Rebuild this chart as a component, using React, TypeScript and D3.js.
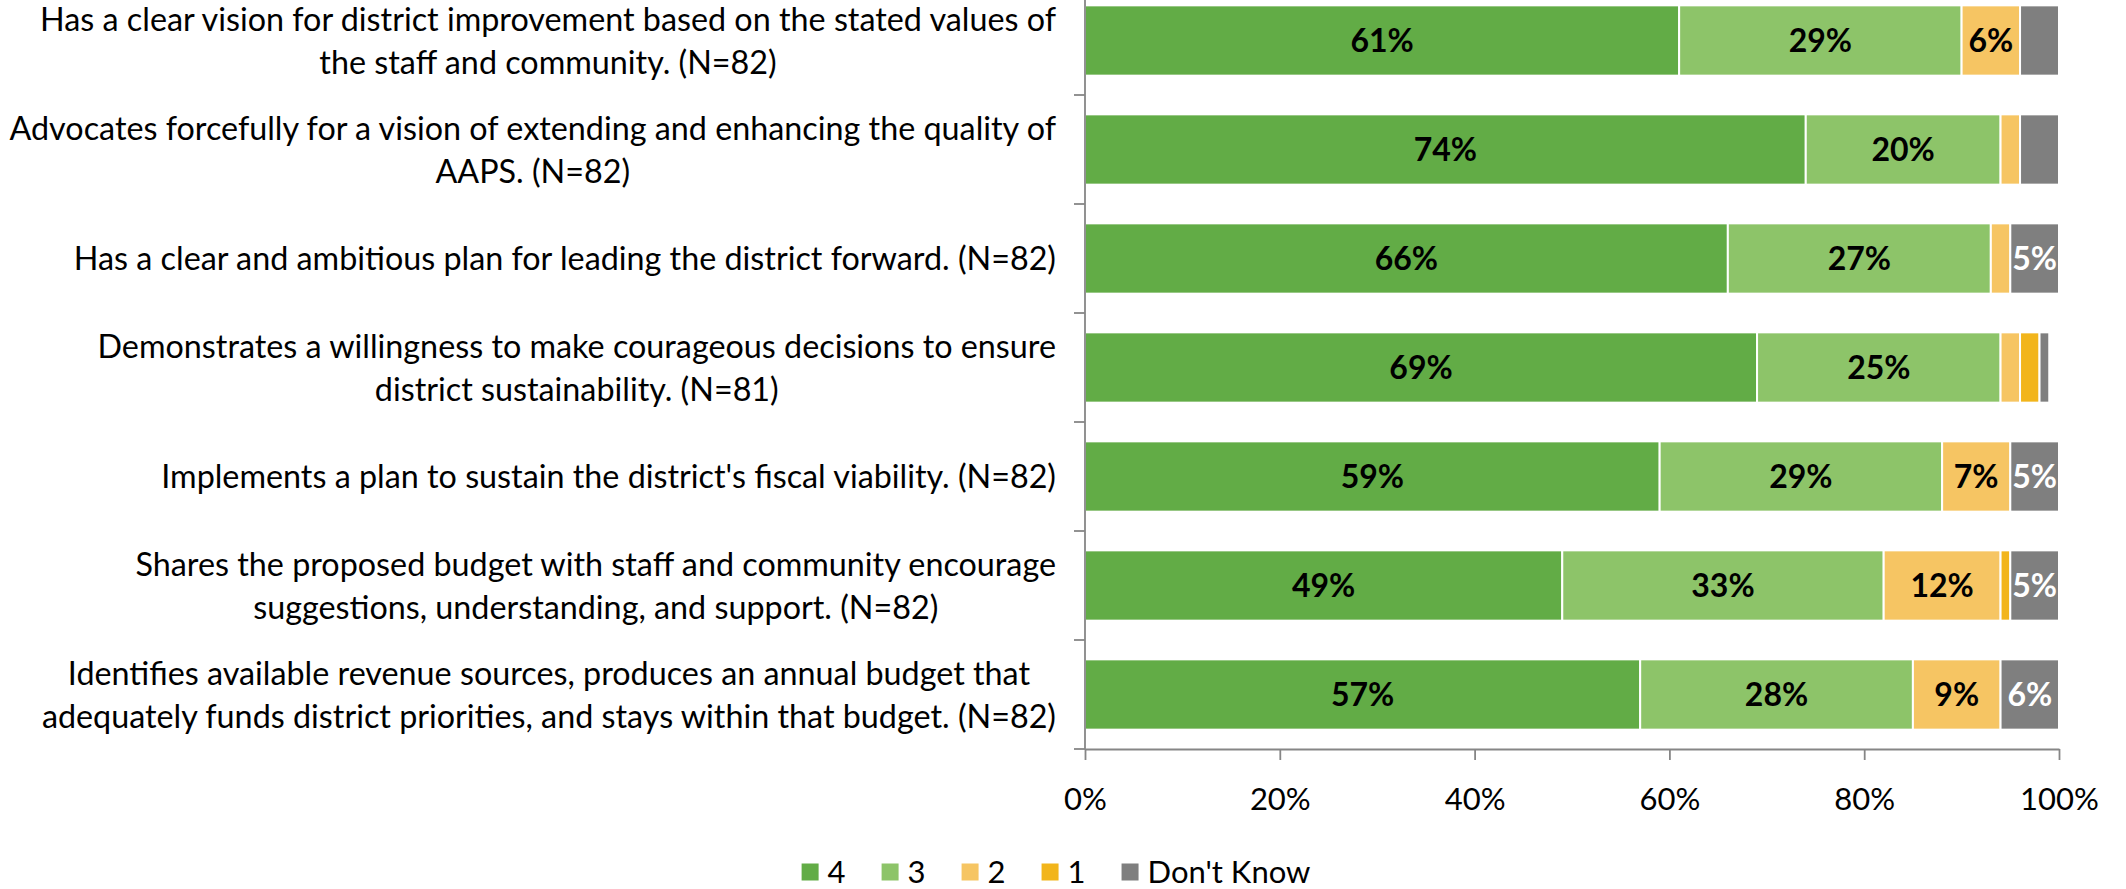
import { useRef, useEffect } from 'react';
import * as d3 from 'd3';

const categories = [
  "Has a clear vision for district improvement based on the stated values of|the staff and community. (N=82)",
  "Advocates forcefully for a vision of extending and enhancing the quality of|AAPS. (N=82)",
  "Has a clear and ambitious plan for leading the district forward. (N=82)",
  "Demonstrates a willingness to make courageous decisions to ensure|district sustainability. (N=81)",
  "Implements a plan to sustain the district's fiscal viability. (N=82)",
  "Shares the proposed budget with staff and community encourage|suggestions, understanding, and support. (N=82)",
  "Identifies available revenue sources, produces an annual budget that|adequately funds district priorities, and stays within that budget. (N=82)",
];

const seriesNames = ["4", "3", "2", "1", "Don't Know"];
const values4 = [61, 74, 66, 69, 59, 49, 57];
const values3 = [29, 20, 27, 25, 29, 33, 28];
const values2 = [6, 2, 2, 2, 7, 12, 9];
const values1 = [0, 0, 0, 2, 0, 1, 0];
const valuesDK = [4, 4, 5, 1, 5, 5, 6];
const xTicks = [0, 20, 40, 60, 80, 100];

const colors = ["#62AC46", "#8DC469", "#F6C563", "#F2B51B", "#7F7F7F"];
const labelColors = ["#000", "#000", "#000", "#000", "#fff"];

const W = 2126;
const H = 889;
const FONT = "Lato, 'Open Sans', sans-serif";

const App = () => {
  const svgRef = useRef<SVGSVGElement>(null);

  useEffect(() => {
    const svg = d3.select(svgRef.current);
    svg.selectAll("*").remove();

    const margin = { top: -14, right: 67, bottom: 140, left: 1085 };
    const plotW = W - margin.left - margin.right;
    const plotBottom = H - margin.bottom;

    const rows = categories.map((c, i) => ({
      cat: c,
      "4": values4[i],
      "3": values3[i],
      "2": values2[i],
      "1": values1[i],
      "Don't Know": valuesDK[i],
    }));

    const stacked = d3.stack<any>().keys(seriesNames)(rows);

    const x = d3.scaleLinear().domain([0, 100]).range([margin.left, margin.left + plotW]);
    const y = d3.scaleBand()
      .domain(categories)
      .range([margin.top, plotBottom])
      .paddingInner(0.355)
      .paddingOuter(0.1775);

    // bars
    stacked.forEach((layer, si) => {
      const g = svg.append("g");
      g.selectAll("rect")
        .data(layer.filter(d => d[1] - d[0] > 0))
        .enter()
        .append("rect")
        .attr("x", d => x(d[0]))
        .attr("y", d => y(d.data.cat)!)
        .attr("width", d => x(d[1]) - x(d[0]))
        .attr("height", y.bandwidth())
        .attr("fill", colors[si])
        .attr("stroke", "#fff")
        .attr("stroke-width", 2);

      g.selectAll("text")
        .data(layer.filter(d => d[1] - d[0] >= 5))
        .enter()
        .append("text")
        .attr("x", d => (x(d[0]) + x(d[1])) / 2)
        .attr("y", d => y(d.data.cat)! + y.bandwidth() / 2)
        .attr("dy", "0.36em")
        .attr("text-anchor", "middle")
        .attr("font-family", FONT)
        .attr("font-weight", "bold")
        .attr("font-size", 32)
        .attr("fill", labelColors[si])
        .text(d => `${d[1] - d[0]}%`);
    });

    const axisColor = "#868686";

    // category axis
    svg.append("line")
      .attr("x1", margin.left).attr("x2", margin.left)
      .attr("y1", margin.top).attr("y2", plotBottom)
      .attr("stroke", axisColor).attr("stroke-width", 1.8);
    const step = y.step();
    d3.range(categories.length + 1).forEach(i => {
      const yy = margin.top + i * step;
      svg.append("line")
        .attr("x1", margin.left - 11).attr("x2", margin.left)
        .attr("y1", yy).attr("y2", yy)
        .attr("stroke", axisColor).attr("stroke-width", 1.8);
    });

    // category labels, wrapped lines centred in a right-aligned block
    const labelRight = 1056;
    const lineH = 43;
    categories.forEach(c => {
      const lines = c.split("|");
      const g = svg.append("g");
      const texts = lines.map((ln, li) =>
        g.append("text")
          .attr("font-family", FONT)
          .attr("font-size", 32.3)
          .attr("fill", "#000")
          .attr("text-anchor", "middle")
          .attr("y", y(c)! + y.bandwidth() / 2 + (li - (lines.length - 1) / 2) * lineH)
          .attr("dy", "0.36em")
          .text(ln)
      );
      const maxW = d3.max(texts, t => (t.node() as SVGTextElement).getComputedTextLength()) || 0;
      texts.forEach(t => t.attr("x", labelRight - maxW / 2));
    });

    // value axis
    const xAxis = d3.axisBottom(x)
      .tickValues(xTicks)
      .tickSize(11)
      .tickSizeOuter(0)
      .tickPadding(28)
      .tickFormat(d => `${d}%`);
    const ax = svg.append("g")
      .attr("transform", `translate(0,${plotBottom})`)
      .call(xAxis);
    ax.select(".domain").attr("stroke", axisColor).attr("stroke-width", 1.8);
    ax.selectAll(".tick line").attr("stroke", axisColor).attr("stroke-width", 1.8);
    ax.selectAll(".tick text")
      .attr("font-family", FONT)
      .attr("font-size", 31)
      .attr("fill", "#000");

    // legend
    const legend = svg.append("g");
    let cursor = 0;
    const sq = 17;
    const legendY = 872;
    seriesNames.forEach((name, i) => {
      legend.append("rect")
        .attr("x", cursor).attr("y", legendY - sq / 2)
        .attr("width", sq).attr("height", sq)
        .attr("fill", colors[i]);
      const t = legend.append("text")
        .attr("x", cursor + sq + 9)
        .attr("y", legendY)
        .attr("dy", "0.36em")
        .attr("font-family", FONT)
        .attr("font-size", 31)
        .attr("fill", "#000")
        .text(name);
      cursor += sq + 9 + (t.node() as SVGTextElement).getComputedTextLength() + 36;
    });
    const legendW = cursor - 36;
    legend.attr("transform", `translate(${1056 - legendW / 2},0)`);
  }, []);

  return (
    <svg
      ref={svgRef}
      width={W}
      height={H}
      style={{ position: 'absolute', left: 0, top: 0, background: '#fff' }}
    />
  );
};

export default App;
